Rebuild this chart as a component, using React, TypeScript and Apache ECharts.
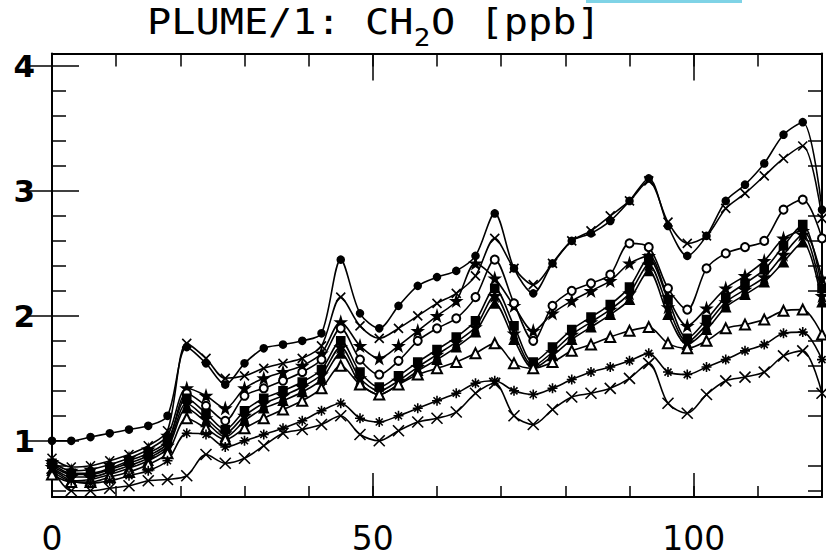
import React, { useEffect, useRef } from "react";
import * as echarts from "echarts";

// time axis (hours)
const hours = [0, 3, 6, 9, 12, 15, 18, 21, 24, 27, 30, 33, 36, 39, 42, 45, 48, 51, 54, 57, 60, 63, 66, 69, 72, 75, 78, 81, 84, 87, 90, 93, 96, 99, 102, 105, 108, 111, 114, 117, 120];

const runCircle = [1.00, 1.00, 1.03, 1.06, 1.09, 1.12, 1.20, 1.75, 1.62, 1.45, 1.62, 1.74, 1.77, 1.80, 1.86, 2.45, 2.02, 1.90, 2.08, 2.24, 2.31, 2.36, 2.48, 2.82, 2.38, 2.18, 2.42, 2.60, 2.66, 2.76, 2.92, 3.10, 2.72, 2.48, 2.64, 2.92, 3.05, 3.22, 3.45, 3.55, 2.85];
const runCross = [0.86, 0.79, 0.80, 0.84, 0.89, 0.96, 1.08, 1.78, 1.66, 1.50, 1.52, 1.58, 1.62, 1.66, 1.76, 2.15, 1.92, 1.82, 1.90, 2.00, 2.10, 2.18, 2.32, 2.62, 2.38, 2.25, 2.42, 2.60, 2.68, 2.80, 2.92, 3.08, 2.75, 2.58, 2.64, 2.86, 2.98, 3.12, 3.26, 3.36, 2.78];
const runStarHigh = [0.83, 0.76, 0.77, 0.81, 0.86, 0.93, 1.04, 1.42, 1.36, 1.26, 1.42, 1.50, 1.55, 1.60, 1.70, 1.95, 1.76, 1.66, 1.76, 1.88, 2.00, 2.12, 2.42, 2.30, 2.08, 1.88, 2.02, 2.12, 2.20, 2.28, 2.42, 2.48, 2.15, 1.92, 2.06, 2.22, 2.32, 2.44, 2.62, 2.68, 2.30];
const runOpenCircle = [0.80, 0.73, 0.73, 0.77, 0.82, 0.88, 0.98, 1.38, 1.28, 1.16, 1.36, 1.42, 1.48, 1.55, 1.65, 1.90, 1.65, 1.53, 1.64, 1.80, 1.90, 1.98, 2.15, 2.45, 2.10, 1.80, 2.08, 2.20, 2.26, 2.33, 2.58, 2.55, 2.22, 2.05, 2.38, 2.50, 2.55, 2.60, 2.85, 2.93, 2.62];
const runSquare = [0.82, 0.74, 0.74, 0.78, 0.84, 0.90, 1.00, 1.34, 1.22, 1.09, 1.24, 1.34, 1.40, 1.47, 1.57, 1.80, 1.55, 1.43, 1.52, 1.63, 1.73, 1.83, 1.96, 2.22, 1.92, 1.63, 1.75, 1.89, 1.99, 2.09, 2.23, 2.46, 2.13, 1.82, 1.97, 2.15, 2.26, 2.37, 2.56, 2.73, 2.22];
const runStar = [0.79, 0.71, 0.71, 0.75, 0.80, 0.86, 0.96, 1.30, 1.18, 1.06, 1.20, 1.30, 1.36, 1.43, 1.53, 1.75, 1.50, 1.40, 1.48, 1.59, 1.69, 1.79, 1.91, 2.16, 1.86, 1.60, 1.71, 1.85, 1.95, 2.05, 2.18, 2.41, 2.07, 1.79, 1.93, 2.11, 2.21, 2.31, 2.49, 2.65, 2.16];
const runTriangle = [0.76, 0.68, 0.69, 0.73, 0.78, 0.84, 0.94, 1.26, 1.15, 1.03, 1.16, 1.26, 1.32, 1.39, 1.49, 1.70, 1.46, 1.37, 1.45, 1.56, 1.65, 1.75, 1.87, 2.10, 1.81, 1.58, 1.68, 1.81, 1.91, 2.01, 2.13, 2.36, 2.01, 1.77, 1.89, 2.07, 2.17, 2.27, 2.43, 2.59, 2.11];
const runOpenTriangle = [0.73, 0.67, 0.67, 0.71, 0.75, 0.81, 0.90, 1.18, 1.10, 1.01, 1.10, 1.18, 1.25, 1.32, 1.42, 1.60, 1.45, 1.37, 1.45, 1.53, 1.58, 1.63, 1.70, 1.78, 1.62, 1.58, 1.63, 1.72, 1.77, 1.83, 1.88, 1.91, 1.78, 1.74, 1.80, 1.90, 1.93, 1.97, 2.04, 2.05, 1.85];
const runAsterisk = [0.78, 0.68, 0.66, 0.68, 0.72, 0.76, 0.84, 1.06, 1.05, 0.95, 1.00, 1.05, 1.10, 1.16, 1.24, 1.30, 1.18, 1.15, 1.20, 1.26, 1.32, 1.38, 1.46, 1.48, 1.40, 1.37, 1.42, 1.49, 1.55, 1.59, 1.64, 1.70, 1.55, 1.53, 1.59, 1.65, 1.72, 1.77, 1.86, 1.87, 1.65];
const runX = [0.78, 0.60, 0.60, 0.62, 0.64, 0.68, 0.69, 0.72, 0.89, 0.82, 0.86, 0.96, 1.06, 1.09, 1.13, 1.20, 1.05, 1.00, 1.08, 1.15, 1.18, 1.23, 1.38, 1.46, 1.20, 1.13, 1.25, 1.35, 1.38, 1.42, 1.50, 1.62, 1.30, 1.22, 1.37, 1.48, 1.51, 1.55, 1.68, 1.72, 1.38];

const yMajorTicks = [1, 2, 3, 4];
const yMinorTicks = [0.6, 0.8, 1.2, 1.4, 1.6, 1.8, 2.2, 2.4, 2.6, 2.8, 3.2, 3.4, 3.6, 3.8];
const xLabelTicks = [0, 50, 100];

const STAR = "path://M50,0 L61,35 L98,35 L68,57 L79,91 L50,70 L21,91 L32,57 L2,35 L39,35 Z";
const XMARK = "path://M0,0 L10,10 M10,0 L0,10";
const ASTER = "path://M5,0 L5,10 M0,5 L10,5 M1.5,1.5 L8.5,8.5 M8.5,1.5 L1.5,8.5";

const seriesDefs: { name: string; values: number[]; symbol: string; size: number }[] = [
  { name: "run1", values: runCircle, symbol: "circle", size: 7 },
  { name: "run2", values: runCross, symbol: XMARK, size: 9 },
  { name: "run3", values: runStarHigh, symbol: STAR, size: 10 },
  { name: "run4", values: runOpenCircle, symbol: "emptyCircle", size: 8 },
  { name: "run5", values: runSquare, symbol: "rect", size: 8 },
  { name: "run6", values: runStar, symbol: STAR, size: 10 },
  { name: "run7", values: runTriangle, symbol: "triangle", size: 9 },
  { name: "run8", values: runOpenTriangle, symbol: "emptyTriangle", size: 10 },
  { name: "run9", values: runAsterisk, symbol: ASTER, size: 10 },
  { name: "run10", values: runX, symbol: XMARK, size: 11 },
];

const X_MIN = 0;
const X_MAX = 120;
const Y_MIN = 0.55;
const Y_MAX = 4.1;

export default function App() {
  const ref = useRef<HTMLDivElement>(null);

  useEffect(() => {
    if (!ref.current) return;
    const chart = echarts.init(ref.current, null, { renderer: "svg" });

    const line = { color: "#000", width: 2 };
    const tick = (len: number) => ({ show: true, inside: true, length: len, lineStyle: { color: "#000", width: 1.5 } });

    const xBase = { type: "value", min: X_MIN, max: X_MAX, splitLine: { show: false } };
    const yBase = { type: "value", min: Y_MIN, max: Y_MAX, splitLine: { show: false } };

    const option: any = {
      animation: false,
      backgroundColor: "#fff",
      grid: { left: 52, right: 4, top: 53.5, bottom: 63, containLabel: false },
      xAxis: [
        {
          ...xBase,
          position: "bottom",
          interval: 10,
          axisLine: { show: true, onZero: false, lineStyle: line },
          axisTick: tick(11),
          axisLabel: {
            show: true,
            formatter: (v: number) => (xLabelTicks.indexOf(v) >= 0 ? String(v) : ""),
            fontSize: 33,
            fontFamily: "DejaVu Sans",
            color: "#000",
            margin: 25,
            showMaxLabel: false,
          },
        },
        { ...xBase, position: "bottom", interval: 50, axisLine: { show: false }, axisTick: tick(24), axisLabel: { show: false } },
        { ...xBase, position: "top", interval: 10, axisLine: { show: true, onZero: false, lineStyle: line }, axisTick: tick(13), axisLabel: { show: false } },
        { ...xBase, position: "top", interval: 50, axisLine: { show: false }, axisTick: tick(27), axisLabel: { show: false } },
      ],
      yAxis: [
        {
          ...yBase,
          position: "left",
          axisLine: { show: true, onZero: false, lineStyle: line },
          axisTick: { ...tick(14), customValues: yMinorTicks },
          axisLabel: {
            show: true,
            customValues: yMajorTicks,
            formatter: (v: number) => String(v),
            fontSize: 31,
            fontWeight: "bold",
            fontFamily: "DejaVu Sans",
            color: "#000",
            margin: 17,
          },
        },
        { ...yBase, position: "left", axisLine: { show: false }, axisTick: { ...tick(27), customValues: yMajorTicks }, axisLabel: { show: false } },
        { ...yBase, position: "right", axisLine: { show: true, onZero: false, lineStyle: line }, axisTick: { ...tick(14), customValues: yMinorTicks }, axisLabel: { show: false } },
        { ...yBase, position: "right", axisLine: { show: false }, axisTick: { ...tick(27), customValues: yMajorTicks }, axisLabel: { show: false } },
      ],
      series: seriesDefs.map((s) => ({
        name: s.name,
        type: "line",
        xAxisIndex: 0,
        yAxisIndex: 0,
        data: hours.map((h, i) => [h, s.values[i]]),
        smooth: 0.3,
        showAllSymbol: true,
        symbol: s.symbol,
        symbolSize: s.size,
        lineStyle: { color: "#000", width: 1.6 },
        itemStyle: { color: "#000", borderColor: "#000", borderWidth: 1.6 },
        emphasis: { disabled: true },
        clip: true,
      })),
      graphic: [
        { type: "rect", shape: { x: 586, y: 0, width: 156, height: 3 }, style: { fill: "#7fd3e6" } },
        {
          type: "group",
          x: 147,
          y: 0,
          scaleX: 1.15,
          children: [
            { type: "text", x: 0, y: 22, style: { text: "PLUME/1: CH", font: "35px 'DejaVu Sans Mono'", fill: "#000", verticalAlign: "middle", align: "left" } },
            { type: "text", x: 232, y: 38, style: { text: "2", font: "24px 'DejaVu Sans Mono'", fill: "#000", verticalAlign: "middle", align: "left" } },
            { type: "text", x: 247, y: 22, style: { text: "O [ppb]", font: "35px 'DejaVu Sans Mono'", fill: "#000", verticalAlign: "middle", align: "left" } },
          ],
        },
      ],
    };

    chart.setOption(option);
    return () => chart.dispose();
  }, []);

  return <div ref={ref} style={{ position: "fixed", left: 0, top: 0, width: 826, height: 560, background: "#fff" }} />;
}
